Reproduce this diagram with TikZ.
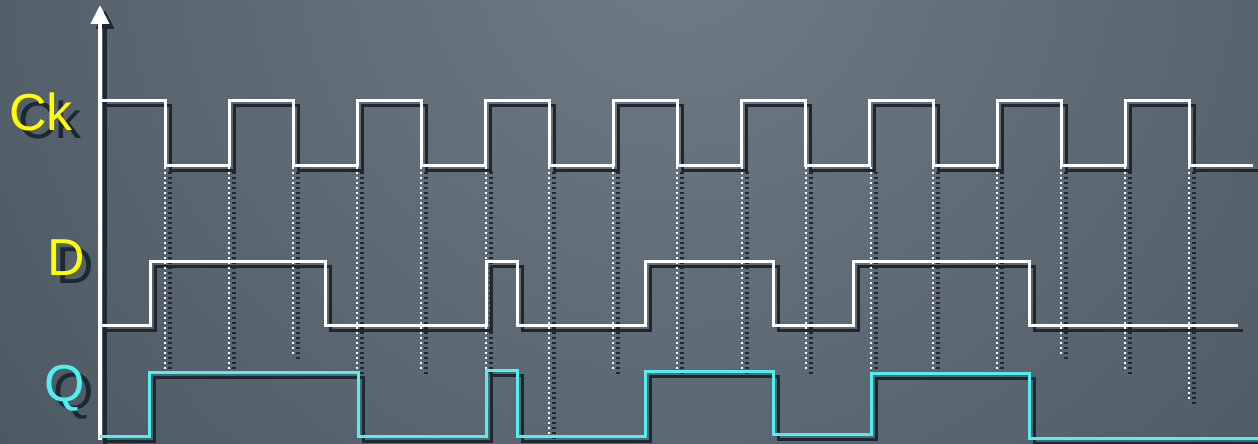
\documentclass[tikz,border=0pt]{standalone}
\usepackage{fontspec}
\setmainfont{Liberation Sans}
\usetikzlibrary{arrows.meta}

\definecolor{bgtop}{RGB}{112,124,133}
\definecolor{bgbot}{RGB}{40,52,64}
\definecolor{shadowc}{RGB}{28,40,50}
\definecolor{qcyan}{RGB}{80,240,240}
\definecolor{lblyellow}{RGB}{255,255,0}

\tikzset{
	wave/.style={line width=1.5pt, line join=miter},
	tick/.style={line width=1.3pt, dash pattern=on 1.2pt off 1.3pt},
	yaxis/.style={line width=2pt, -{Triangle[width=9pt,length=9.5pt]}},
	lbl/.style={font=\fontsize{26}{30}\selectfont, anchor=base, inner sep=0pt},
}

\newcommand\timing[3]{%
	\draw[yaxis,#1] (100,440) -- (100,5);
	\foreach \x/\e in {165/371,229/371,293/355,357/371,421/370,486/370,549/436,613/370,677/370,
		742/370,806/370,871/370,933/372,997/372,1061/355,1125/372,1189/402}
		\draw[tick,#3] (\x,167) -- (\x,\e);
	\draw[wave,#1] (100,101) -- (165,101)
		foreach \i in {0,...,7} { -- (165+128*\i,165) -- (229+128*\i,165) -- (229+128*\i,101) -- (293+128*\i,101) }
		-- (1189,165) -- (1253,165);
	\draw[wave,#1] (100,325) -- (150,325) -- (150,261) -- (325,261) -- (325,325) -- (486,325) -- (486,261)
		-- (517,261) -- (517,325) -- (645,325) -- (645,261) -- (773,261) -- (773,325) -- (853,325)
		-- (853,261) -- (1029,261) -- (1029,325) -- (1238,325);
	\draw[wave,#2] (100,436) -- (149,436) -- (149,372) -- (358,372) -- (358,436) -- (486,436) -- (486,370)
		-- (517,370) -- (517,436) -- (645,436) -- (645,371) -- (773,371) -- (773,434) -- (871,434)
		-- (871,373) -- (1029,373) -- (1029,438) -- (1258,438);
}

\begin{document}
\begin{tikzpicture}[x=0.5pt,y=-0.5pt]
	\useasboundingbox (0,0) rectangle (1258,444);
	\begin{scope}
		\clip (0,0) rectangle (1258,444);
		\shade[inner color=bgtop, outer color=bgbot] (680,-60) circle (1700);
	\end{scope}

	\begin{scope}[shift={(5,5)}]
		\timing{shadowc}{shadowc}{shadowc, line width=2.2pt}
	\end{scope}
	\timing{white}{qcyan}{white}

	\node[lbl, shadowc] (ck-s) at (50,139) {Ck};
	\node[lbl, shadowc] (d-s) at (75,283) {D};
	\node[lbl, shadowc] (q-s) at (74,409) {Q};
	\node[lbl, lblyellow] (ck) at (41,131) {Ck};
	\node[lbl, lblyellow] (d) at (66,275) {D};
	\node[lbl, qcyan] (q) at (65,401) {Q};
\end{tikzpicture}
\end{document}
